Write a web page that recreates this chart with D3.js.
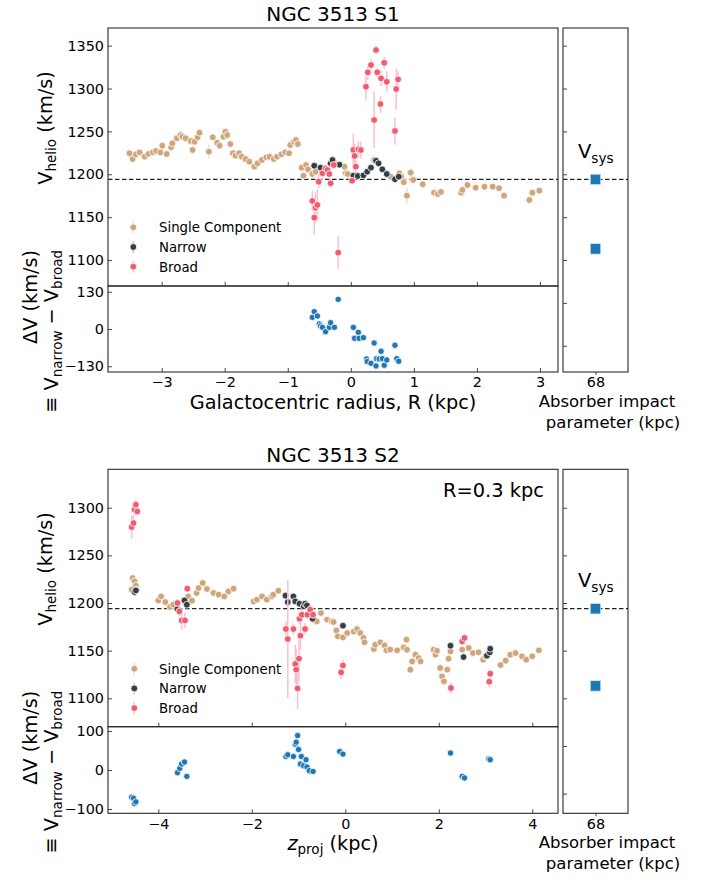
<!DOCTYPE html>
<html><head><meta charset="utf-8">
<script src="https://cdn.jsdelivr.net/npm/d3@7"></script>
<style>
body{margin:0;background:#fff;}
svg{display:block;font-family:"DejaVu Sans",sans-serif;}
</style></head><body>
<svg id="c" width="708" height="877"></svg>
<script>
// ---------------- DATA ----------------
// S1: [R (kpc), V_helio (km/s), error]
const s1Single = [[-3.51,1224.5,3],[-3.46,1217.8,3],[-3.41,1223.3,3],[-3.35,1225.6,3],[-3.27,1220.5,3],[-3.21,1223.7,3],[-3.14,1225.6,3],[-3.09,1227.2,3],[-3.02,1225.6,3],[-2.99,1233.3,3],[-2.92,1223.7,3],[-2.85,1231.4,3],[-2.83,1236.1,3],[-2.76,1242,3],[-2.70,1245.8,3],[-2.67,1243.8,3],[-2.62,1242,3],[-2.54,1238.8,3],[-2.51,1228.3,4],[-2.48,1238,3],[-2.43,1243.1,3],[-2.40,1248.5,3],[-2.25,1226.3,8],[-2.19,1243.1,3],[-2.12,1236.8,3],[-2.08,1233.3,4],[-2.02,1243.8,3],[-1.99,1249.6,3],[-1.96,1245.8,3],[-1.91,1235.3,3],[-1.87,1224.5,3],[-1.83,1221.7,3],[-1.77,1224.5,3],[-1.73,1220.5,3],[-1.67,1217.8,3],[-1.61,1214.7,3],[-1.53,1208.9,3],[-1.48,1212.8,3],[-1.41,1216.7,3],[-1.34,1219.8,3],[-1.29,1220.5,3],[-1.22,1217.8,3],[-1.17,1220.5,3],[-1.10,1223.3,3],[-1.04,1225.6,3],[-0.98,1224.5,3],[-0.96,1234.1,3],[-0.90,1238,3],[-0.87,1240,3],[-0.84,1235.3,3],[-0.78,1207.7,4],[-0.75,1198.4,4],[-0.71,1210.8,3],[-0.68,1205.8,3],[-0.61,1200.3,3],[-0.56,1203,3],[-0.27,1214.7,3],[-0.10,1208.9,3],[-0.08,1201.2,3],[-0.05,1200.3,3],[0.37,1216.7,3],[0.63,1197.2,3],[0.77,1201.2,3],[0.80,1197.2,3],[0.84,1190.7,3],[0.89,1175.1,9],[0.95,1201.9,6],[0.99,1193.4,4],[1.14,1188.3,4],[1.32,1178.6,3],[1.38,1177,3],[1.43,1179.4,3],[1.75,1178.6,3],[1.77,1181.7,3],[1.85,1187.5,3],[1.98,1184.4,3],[2.12,1185.5,3],[2.25,1185.5,3],[2.35,1183.7,3],[2.43,1175.1,3],[2.83,1170,3],[2.88,1178.6,3],[2.99,1180.9,3]];
const s1Narrow = [[-0.58,1210,3],[-0.48,1207.7,3],[-0.32,1212.8,3],[-0.29,1216.7,3],[-0.18,1211.2,3],[0.04,1198.4,3],[0.11,1198,3],[0.20,1198.8,3],[0.26,1203,3],[0.32,1207.7,3],[0.40,1215.9,3],[0.44,1212.8,3],[0.50,1205.8,3],[0.57,1200.3,3],[0.70,1194.2,3],[0.76,1197.2,3]];
const s1Broad = [[-0.61,1168.9,12],[-0.58,1149.4,20],[-0.56,1161,18],[-0.53,1164.2,18],[-0.51,1191.4,8],[-0.45,1201.2,5],[-0.40,1207,4],[-0.37,1205,4],[-0.34,1200.3,5],[-0.32,1189.5,5],[-0.27,1210.8,4],[-0.20,1108.6,19],[0.02,1192.5,4],[0.04,1228.3,19],[0.06,1221.3,14],[0.08,1208.9,8],[0.12,1229.1,10],[0.16,1228.3,10],[0.24,1302.1,16],[0.27,1318.9,9],[0.32,1327.4,7],[0.40,1344.9,5],[0.42,1318.9,6],[0.48,1311.9,9],[0.53,1330.1,7],[0.57,1307.9,12],[0.47,1281.9,10],[0.37,1263.3,33],[0.70,1250.5,16],[0.72,1299.4,24],[0.75,1310.7,10]];
// S1 Delta V = V_narrow - V_broad : [R, dV]
const s1Delta = [[-0.61,40.7],[-0.58,60.4],[-0.53,45.3],[-0.50,17.4],[-0.48,10.5],[-0.45,5.8],[-0.40,-9.3],[-0.34,5.8],[-0.32,22],[-0.26,5.8],[-0.20,103.5],[0.04,5.8],[0.06,-32.5],[0.12,-11.6],[0.13,-32.5],[0.20,-30.2],[0.25,-104.6],[0.26,-113.8],[0.32,-119.6],[0.37,-48.8],[0.40,-129],[0.41,-103.4],[0.45,-104.6],[0.48,-77.8],[0.50,-103.4],[0.53,-126.5],[0.57,-108],[0.70,-56.9],[0.73,-103.4],[0.76,-112.6]];

// S2: [z_proj (kpc), V_helio (km/s), error]
const s2Single = [[-4.57,1214,3],[-4.55,1226.2,3],[-4.51,1222.7,3],[-4.48,1218.2,3],[-4.46,1214,3],[-4.00,1202.7,3],[-3.94,1206.9,3],[-3.85,1201,3],[-3.75,1195.8,3],[-3.68,1198.2,3],[-3.36,1206.9,3],[-3.28,1202.4,3],[-3.18,1210.5,3],[-3.14,1215.7,3],[-3.05,1221,3],[-2.96,1214.7,3],[-2.82,1210.5,3],[-2.71,1208.7,3],[-2.59,1206.9,3],[-2.50,1212.2,3],[-2.39,1215,3],[-1.96,1201.7,3],[-1.89,1203.5,3],[-1.78,1206.9,3],[-1.68,1203.5,3],[-1.57,1206.9,3],[-1.54,1208.7,3],[-1.43,1212.9,3],[-0.68,1184.3,3],[-0.61,1180.7,3],[-0.52,1189.5,3],[-0.39,1182.5,3],[-0.29,1180.7,3],[-0.25,1180.1,3],[-0.19,1171.2,3],[-0.16,1165,4],[-0.05,1163.9,5],[0.04,1168.5,3],[0.18,1169.9,3],[0.25,1172.7,3],[0.32,1168.5,3],[0.39,1163.3,3],[0.41,1158.7,3],[0.61,1151.7,3],[0.64,1156.2,3],[0.75,1158.7,3],[0.84,1155.5,3],[0.88,1150.3,3],[0.96,1151,3],[1.11,1150.3,3],[1.25,1153.4,3],[1.31,1161.5,3],[1.32,1151,3],[1.39,1130,4],[1.43,1138.7,3],[1.50,1145.8,3],[1.57,1142.3,3],[1.61,1138.7,3],[1.89,1151,3],[1.93,1145.8,3],[1.96,1150,3],[2.03,1131.8,4],[2.07,1123,3],[2.11,1117.7,3],[2.18,1130,3],[2.21,1141.6,3],[2.25,1149.2,3],[2.50,1151,3],[2.64,1152.8,3],[2.73,1147.5,3],[2.85,1148.2,3],[2.95,1140.5,3],[3.00,1144,3],[3.32,1134.9,3],[3.43,1139.5,3],[3.53,1145.8,3],[3.64,1147.5,3],[3.78,1144,3],[3.87,1140.5,3],[4.00,1144,3],[4.14,1150.3,3]];
const s2Narrow = [[-4.51,1211.5,3],[-4.48,1213.2,3],[-3.59,1193.7,3],[-3.44,1202.7,3],[-3.39,1198.2,3],[-1.28,1207.7,3],[-1.23,1201,3],[-1.11,1206.9,3],[-1.07,1201.7,3],[-0.98,1199.3,3],[-0.89,1196.4,3],[-0.86,1199.3,3],[-0.82,1197.5,3],[-0.70,1183.5,3],[-0.05,1176.2,3],[2.25,1155.2,3],[2.53,1143.3,3],[3.03,1144.7,3],[3.09,1148.2,3],[3.10,1152,3]];
const s2Broad = [[-4.57,1279.7,12],[-4.53,1283.9,8],[-4.51,1297.9,6],[-4.48,1303.1,5],[-4.45,1296.1,5],[-3.59,1200,4],[-3.55,1191.2,5],[-3.50,1181.7,10],[-3.43,1181.7,8],[-3.38,1215,3],[-1.27,1172.7,8],[-1.23,1162.2,62],[-1.11,1172.7,6],[-1.07,1136,20],[-1.05,1130,22],[-1.02,1110.4,22],[-0.99,1141.6,25],[-0.96,1165.7,15],[-0.98,1183.5,6],[-0.93,1187.7,5],[-0.86,1172.7,6],[-0.81,1187.7,5],[-0.75,1193,5],[-0.69,1187.7,4],[-0.09,1127.2,7],[-0.05,1134.5,6],[2.26,1110.8,6],[2.50,1159.7,4],[2.55,1163.3,4],[3.10,1125.8,4],[3.08,1117.4,6]];
const s2Delta = [[-4.57,-69.9],[-4.53,-72.4],[-4.51,-86],[-4.48,-81.6],[-3.59,-6.9],[-3.54,4.2],[-3.50,15.3],[-3.44,20.4],[-3.39,-16.3],[-1.27,34.7],[-1.23,39],[-1.11,34.7],[-1.07,66.3],[-1.05,71.4],[-1.02,88.3],[-1.00,52.6],[-0.96,15.3],[-0.94,34.7],[-0.89,11],[-0.84,26.3],[-0.82,7.7],[-0.77,-1.8],[-0.69,-3.6],[-0.12,47.5],[-0.05,40.8],[2.25,43.4],[2.50,-16.3],[2.55,-20.4],[3.07,28.1],[3.10,26.3]];

// Absorber
const absImpact = [68];
const absVel = [1194, 1113];
const vSys = 1194;

// Ticks
const s1XTicks = [-3,-2,-1,0,1,2,3];
const s1YTicks = [1100,1150,1200,1250,1300,1350];
const s1RTicks = [1000,1050,1100,1150,1200,1250,1300,1350];
const s1DTicks = [-130,0,130];
const s2XTicks = [-4,-2,0,2,4];
const s2YTicks = [1100,1150,1200,1250,1300];
const s2RTicks = [1000,1050,1100,1150,1200,1250,1300];
const s2DTicks = [-100,0,100];
const legendNames = ["Single Component","Narrow","Broad"];

// ---------------- STYLE ----------------
const FONT = '"DejaVu Sans", sans-serif';
const C_SINGLE = "#cfa57b", E_SINGLE = "#ecdcc9";
const C_NARROW = "#363e44", E_NARROW = "#c4c7ca";
const C_BROAD = "#f15b70", E_BROAD = "#f9c0cd";
const C_BLUE = "#1f77b4";
const L = 108, Rr = 558, RL = 563, RR = 628;

const svg = d3.select("#c");

function styleAxis(g){
  g.attr("font-family", FONT).attr("font-size", 14.4);
  g.select(".domain").remove();
  g.selectAll(".tick line").attr("stroke", "#333").attr("stroke-width", 0.9);
  g.selectAll(".tick text").attr("fill", "#000");
}

function series(g, data, xs, ys, color, ecolor){
  g.append("g").selectAll("line").data(data).join("line")
    .attr("x1", d => xs(d[0])).attr("x2", d => xs(d[0]))
    .attr("y1", d => ys(d[1] - d[2])).attr("y2", d => ys(d[1] + d[2]))
    .attr("stroke", ecolor).attr("stroke-width", 1.5);
  g.append("g").selectAll("circle").data(data).join("circle")
    .attr("cx", d => xs(d[0])).attr("cy", d => ys(d[1]))
    .attr("r", 3.4).attr("fill", color).attr("stroke", "#fff").attr("stroke-width", 0.8);
}

function figure(cfg){
  const top = cfg.top, split = cfg.split, bottom = cfg.bottom;
  const x = d3.scaleLinear().domain(cfg.xDom).range([L, Rr]);
  const y = d3.scaleLinear().domain(cfg.yDom).range([split, top]);
  const yd = d3.scaleLinear().domain(cfg.dDom).range([bottom, split]);
  const xr = d3.scaleLinear().domain([67.5, 68.5]).range([RL, RR]);

  // title
  svg.append("text").attr("x", (L + Rr) / 2).attr("y", cfg.titleY)
    .attr("text-anchor", "middle").attr("font-size", 20).attr("font-family", FONT)
    .text(cfg.title);

  const g = svg.append("g");

  // dashed systemic line
  g.append("line").attr("x1", L).attr("x2", Rr).attr("y1", y(vSys)).attr("y2", y(vSys))
    .attr("stroke", "#222").attr("stroke-width", 1.2).attr("stroke-dasharray", "4.5,2.5");
  g.append("line").attr("x1", RL).attr("x2", RR).attr("y1", y(vSys)).attr("y2", y(vSys))
    .attr("stroke", "#222").attr("stroke-width", 1.2).attr("stroke-dasharray", "4.5,2.5");

  // data series
  series(g, cfg.single, x, y, C_SINGLE, E_SINGLE);
  series(g, cfg.narrow, x, y, C_NARROW, E_NARROW);
  series(g, cfg.broad, x, y, C_BROAD, E_BROAD);

  // delta
  g.append("g").selectAll("circle").data(cfg.delta).join("circle")
    .attr("cx", d => x(d[0])).attr("cy", d => yd(d[1]))
    .attr("r", 3.2).attr("fill", C_BLUE).attr("stroke", "#fff").attr("stroke-width", 0.8);

  // absorber squares
  const sq = 10.5;
  g.append("g").selectAll("rect").data(absVel).join("rect")
    .attr("x", xr(absImpact[0]) - sq / 2).attr("y", d => y(d) - sq / 2)
    .attr("width", sq).attr("height", sq).attr("fill", C_BLUE)
    .attr("stroke", "#d6e6f2").attr("stroke-width", 0.8);

  // axes
  styleAxis(svg.append("g").attr("transform", `translate(0,${split})`)
    .call(d3.axisBottom(x).tickValues(cfg.xTicks).tickSize(-4).tickFormat("")));
  styleAxis(svg.append("g").attr("transform", `translate(0,${bottom})`)
    .call(d3.axisBottom(x).tickValues(cfg.xTicks).tickSize(-4).tickPadding(5)));
  styleAxis(svg.append("g").attr("transform", `translate(${L},0)`)
    .call(d3.axisLeft(y).tickValues(cfg.yTicks).tickSize(-4).tickPadding(4).tickFormat(d3.format("d"))));
  styleAxis(svg.append("g").attr("transform", `translate(${L},0)`)
    .call(d3.axisLeft(yd).tickValues(cfg.dTicks).tickSize(-4).tickPadding(4)));
  styleAxis(svg.append("g").attr("transform", `translate(${RL},0)`)
    .call(d3.axisLeft(y).tickValues(cfg.rTicks).tickSize(-4).tickFormat("")));
  styleAxis(svg.append("g").attr("transform", `translate(0,${bottom})`)
    .call(d3.axisBottom(xr).tickValues(absImpact).tickSize(3).tickPadding(2).tickFormat(d3.format("d"))));

  // frames
  const fr = (x0, y0, x1, y1) => svg.append("rect").attr("x", x0).attr("y", y0)
    .attr("width", x1 - x0).attr("height", y1 - y0).attr("fill", "none")
    .attr("stroke", "#2a2a2a").attr("stroke-width", 1.1);
  fr(L, top, Rr, split); fr(L, split, Rr, bottom); fr(RL, top, RR, bottom);

  // Vsys label
  const vt = svg.append("text").attr("x", 578).attr("y", y(vSys) - 21.5)
    .attr("font-family", FONT).attr("font-size", 19.5);
  vt.append("tspan").text("V");
  vt.append("tspan").attr("font-size", 13.6).attr("dy", 5).text("sys");

  // legend
  const lg = svg.append("g").attr("font-family", FONT).attr("font-size", 13.3);
  const lc = [[C_SINGLE, E_SINGLE], [C_NARROW, E_NARROW], [C_BROAD, E_BROAD]];
  legendNames.forEach((n, i) => {
    const ly = cfg.legY + i * 19.7;
    lg.append("line").attr("x1", cfg.legX).attr("x2", cfg.legX).attr("y1", ly - 6).attr("y2", ly + 6)
      .attr("stroke", lc[i][1]).attr("stroke-width", 1.5);
    lg.append("circle").attr("cx", cfg.legX).attr("cy", ly).attr("r", 3.4)
      .attr("fill", lc[i][0]).attr("stroke", "#fff").attr("stroke-width", 0.8);
    lg.append("text").attr("x", 159).attr("y", ly + 4.8).text(n);
  });

  // x label
  const xl = svg.append("text").attr("x", (L + Rr) / 2).attr("y", bottom + 36.5)
    .attr("text-anchor", "middle").attr("font-family", FONT).attr("font-size", 19.3);
  cfg.xlabel(xl);

  // absorber label
  svg.append("text").attr("x", 607).attr("y", bottom + 34.5).attr("text-anchor", "middle")
    .attr("font-family", FONT).attr("font-size", 16.5).text("Absorber impact");
  svg.append("text").attr("x", 613).attr("y", bottom + 55.5).attr("text-anchor", "middle")
    .attr("font-family", FONT).attr("font-size", 16.5).text("parameter (kpc)");

  // y label main
  const yl = svg.append("text").attr("transform", `translate(52,${cfg.ylabY}) rotate(-90)`)
    .attr("text-anchor", "middle").attr("font-family", FONT).attr("font-size", 19.3);
  yl.append("tspan").text("V");
  yl.append("tspan").attr("font-size", 13.5).attr("dy", 4).text("helio");
  yl.append("tspan").attr("dy", -4).text(" (km/s)");

  // delta label (two lines, aligned at the top)
  svg.append("text").attr("transform", `translate(37,${split - 36}) rotate(-90)`)
    .attr("text-anchor", "end").attr("font-family", FONT).attr("font-size", 19.3)
    .text("ΔV (km/s)");
  const d2 = svg.append("text").attr("transform", `translate(58,${split - 36}) rotate(-90)`)
    .attr("text-anchor", "end").attr("font-family", FONT).attr("font-size", 19.3);
  d2.append("tspan").text("≡ V");
  d2.append("tspan").attr("font-size", 13.5).attr("dy", 4).text("narrow");
  d2.append("tspan").attr("dy", -4).text(" − V");
  d2.append("tspan").attr("font-size", 13.5).attr("dy", 4).text("broad");

  if (cfg.note) {
    svg.append("text").attr("x", 443).attr("y", top + 27.5).attr("font-family", FONT)
      .attr("font-size", 19.4).text(cfg.note);
  }
}

figure({
  title: "NGC 3513 S1", titleY: 21,
  top: 28, split: 286, bottom: 372,
  xDom: [-3.851, 3.286], yDom: [1069.7, 1370.6], dDom: [-150, 150],
  xTicks: s1XTicks, yTicks: s1YTicks, rTicks: s1RTicks, dTicks: s1DTicks,
  single: s1Single, narrow: s1Narrow, broad: s1Broad, delta: s1Delta,
  legX: 133.3, legY: 227.3, ylabY: 128,
  xlabel: t => t.text("Galactocentric radius, R (kpc)")
});

figure({
  title: "NGC 3513 S2", titleY: 462,
  top: 469.3, split: 726.7, bottom: 813.3,
  xDom: [-5.076, 4.55], yDom: [1070.2, 1340.3], dDom: [-111, 111],
  xTicks: s2XTicks, yTicks: s2YTicks, rTicks: s2RTicks, dTicks: s2DTicks,
  single: s2Single, narrow: s2Narrow, broad: s2Broad, delta: s2Delta,
  legX: 134.3, legY: 668.7, ylabY: 569,
  note: "R=0.3 kpc",
  xlabel: t => {
    t.append("tspan").attr("font-style", "italic").text("z");
    t.append("tspan").attr("font-size", 13.5).attr("dy", 4).text("proj");
    t.append("tspan").attr("dy", -4).text(" (kpc)");
  }
});
</script>
</body></html>
